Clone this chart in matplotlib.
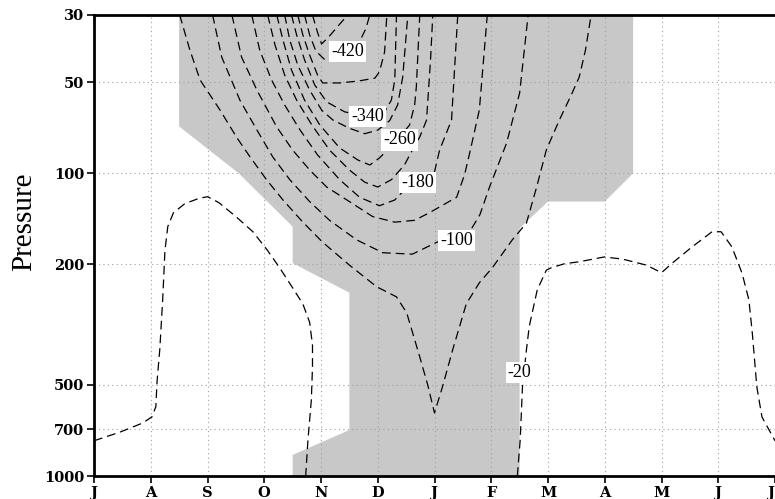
#! /usr/bin/env python

import matplotlib
matplotlib.use("Agg")
import matplotlib.pyplot as plt
import numpy as np

## months from July (0) to next July (12)
month_labels = ['J', 'A', 'S', 'O', 'N', 'D', 'J', 'F', 'M', 'A', 'M', 'J', 'J']
p_ticks = [30, 50, 100, 200, 500, 700, 1000]
p_grid = [50, 100, 200, 500, 700]

## grey shaded (significant) area : month, hPa
shade_m = [1.5, 1.5, 2.55, 3.5, 3.5, 4.5, 4.5, 3.5, 3.5, 7.5, 7.5, 8.0, 9.0, 9.5, 9.5]
shade_p = [30, 70, 100, 150, 198, 248, 705, 852, 1000, 1000, 152, 124, 124, 100, 30]

c20a_m = [0.0, 0.46, 0.86, 1.02, 1.09, 1.11, 1.16, 1.21, 1.25, 1.30, 1.40, 1.60, 1.85, 2.0,
          2.2, 2.5, 2.8, 3.05, 3.27, 3.5, 3.68, 3.80, 3.85, 3.85, 3.83, 3.77, 3.73]
c20a_p = [765, 716, 668, 638, 590, 490, 380, 262, 180, 150, 135, 126, 121, 119.5,
          125, 139, 156, 179, 205, 239, 270, 311, 369, 436, 560, 760, 1000]
c20b_m = [7.46, 7.51, 7.55, 7.62, 7.67, 7.81, 7.97, 8.06, 8.29, 8.55, 8.99, 9.31, 9.73, 10.0,
          10.19, 10.54, 10.89, 11.05, 11.24, 11.42, 11.54, 11.60, 11.68, 11.77, 12.0]
c20b_p = [1000, 760, 508, 383, 320, 243, 209, 205, 199, 196, 189, 192, 201, 213,
          198, 175, 156, 156, 175, 214, 262, 337, 508, 638, 765]

c60_m = [1.51, 1.69, 1.87, 2.22, 2.52, 2.75, 3.04, 3.33, 3.68, 4.03, 4.5, 4.98, 5.33, 5.51,
         5.74, 5.88, 6.0, 6.14, 6.32, 6.56, 6.79, 7.02, 7.37, 7.62, 7.80, 7.97, 8.2, 8.41,
         8.55, 8.66, 8.76]
c60_p = [30, 39.2, 49.2, 61.8, 76.4, 88.3, 105, 122.5, 145, 169, 201, 237, 256, 289,
         404, 500, 619, 508, 383, 270, 230, 205, 166, 146, 111, 83.8, 66.7, 55.1,
         48.1, 39.2, 30]

c100_m = [2.09, 2.25, 2.57, 2.87, 3.15, 3.45, 3.80, 4.15, 4.63, 5.09, 5.61, 6.04, 6.62,
          6.80, 6.97, 7.27, 7.50, 7.65]
c100_p = [30, 41.3, 57.3, 71.9, 88.3, 105, 124, 143, 166, 183, 185, 169, 156,
          137, 111, 79.5, 54.3, 30]

c140_m = [2.43, 2.60, 2.87, 3.22, 3.50, 3.80, 4.10, 4.50, 4.91, 5.30, 5.65, 5.91, 6.39,
          6.53, 6.62, 6.79, 6.93]
c140_p = [30, 41.3, 53.1, 70.3, 83.8, 97.5, 111, 124, 139, 145, 143, 135, 120,
          101, 85.7, 61.8, 30]

c180_m = [2.78, 2.92, 3.13, 3.36, 3.63, 3.94, 4.33, 4.68, 5.03, 5.30, 5.47, 5.74, 6.0,
          6.09, 6.30, 6.41]
c180_p = [30, 39.2, 49.2, 59.5, 71.9, 87.0, 105, 120, 128, 122.5, 113.5, 106, 98.9,
          83.8, 66.7, 30]

c220_m = [3.06, 3.19, 3.36, 3.57, 3.84, 4.15, 4.50, 4.77, 5.0, 5.24, 5.47, 5.61, 5.74,
          5.86, 5.93, 5.97]
c220_p = [30, 37.7, 47.4, 57.3, 69.3, 83.8, 97.5, 107, 111, 105, 93.9, 83.8, 75.9,
          66.7, 42.2, 30]

c260_m = [3.22, 3.33, 3.48, 3.71, 3.98, 4.33, 4.65, 4.86, 5.03, 5.30, 5.56, 5.65, 5.68, 5.74]
c260_p = [30, 36.3, 45.6, 57.3, 69.3, 82.5, 90.4, 93.9, 89.0, 79.4, 69.3, 59.5, 51.8, 30]

c300_m = [3.36, 3.45, 3.59, 3.80, 4.01, 4.21, 4.50, 4.77, 5.0, 5.21, 5.35, 5.44, 5.53]
c300_p = [30, 36.3, 43.9, 53.1, 61.8, 66.7, 71.0, 74.0, 72.0, 67.0, 59.5, 48.1, 30]

c340_m = [3.48, 3.57, 3.71, 3.89, 4.10, 4.42, 4.80, 5.12, 5.24, 5.30, 5.33]
c340_p = [30, 34.9, 42.2, 51.1, 58.1, 62.7, 64.7, 62.7, 57.3, 49.2, 30]

c380_m = [3.59, 3.68, 3.80, 3.94, 4.03, 4.33, 4.65, 4.95, 5.03, 5.12, 5.16]
c380_p = [30, 34.9, 40.7, 47.4, 50.3, 50.3, 49.6, 48.5, 46.2, 39.8, 30]

c420_m = [3.71, 3.80, 3.91, 4.07, 4.47, 4.68, 4.79, 4.86]
c420_p = [30, 34.9, 39.5, 42.2, 40.7, 36.7, 33.3, 30]

c460_m = [3.85, 3.94, 4.01, 4.15, 4.29, 4.47]
c460_p = [30, 34.3, 37.4, 35.2, 32.8, 30]

## contour labels : text, month, hPa
lab_txt = ['-420', '-340', '-260', '-180', '-100', '-20']
lab_m = [4.47, 4.82, 5.38, 5.70, 6.39, 7.50]
lab_p = [39.7, 65.0, 77.6, 107.5, 167, 456]


fig = plt.figure(figsize=(7.75, 4.99), dpi=100)
ax = fig.add_axes([94/775., 23/499., 681/775., 461/499.])

ax.set_yscale('log')
ax.set_xlim(0, 12)
ax.set_ylim(1000, 30)

ax.fill(shade_m, shade_p, color='#c8c8c8', lw=0, zorder=1)

## dotted grid
for m in range(1, 12):
    ax.axvline(m, color='#a0a0a0', lw=0.8, ls=(0, (1, 3)), zorder=2)
for p in p_grid:
    ax.axhline(p, color='#a0a0a0', lw=0.8, ls=(0, (1, 3)), zorder=2)

lines = [(c20a_m, c20a_p), (c20b_m, c20b_p), (c60_m, c60_p), (c100_m, c100_p),
         (c140_m, c140_p), (c180_m, c180_p), (c220_m, c220_p), (c260_m, c260_p),
         (c300_m, c300_p), (c340_m, c340_p), (c380_m, c380_p), (c420_m, c420_p),
         (c460_m, c460_p)]
for xm, yp in lines:
    ax.plot(xm, yp, color='k', lw=0.9, dashes=(7, 4), zorder=3)

for t, xm, yp in zip(lab_txt, lab_m, lab_p):
    ax.text(xm, yp, t, ha='center', va='center', fontsize=13, family='Liberation Serif',
            bbox=dict(facecolor='white', edgecolor='none', pad=1.5), zorder=5)

ax.set_xticks(np.arange(13))
ax.set_xticklabels(month_labels)
ax.set_yticks(p_ticks)
ax.set_yticklabels([str(p) for p in p_ticks])
ax.yaxis.set_minor_locator(matplotlib.ticker.NullLocator())
for lab in ax.get_xticklabels() + ax.get_yticklabels():
    lab.set_family('DejaVu Serif')
    lab.set_fontweight('bold')
    lab.set_fontsize(10.5)
## last J sits on the figure edge, keep it inside
ax.get_xticklabels()[-1].set_horizontalalignment('right')
ax.tick_params(axis='both', direction='out', length=5, width=1.2, pad=2)

for s in ['left', 'bottom', 'top']:
    ax.spines[s].set_linewidth(2.0)
ax.spines['right'].set_visible(False)

fig.text(24/775., 1 - 222/499., 'Pressure', rotation=90, ha='center', va='center',
         fontsize=21, family='Liberation Serif')

fig.savefig('out.png', dpi=100)
